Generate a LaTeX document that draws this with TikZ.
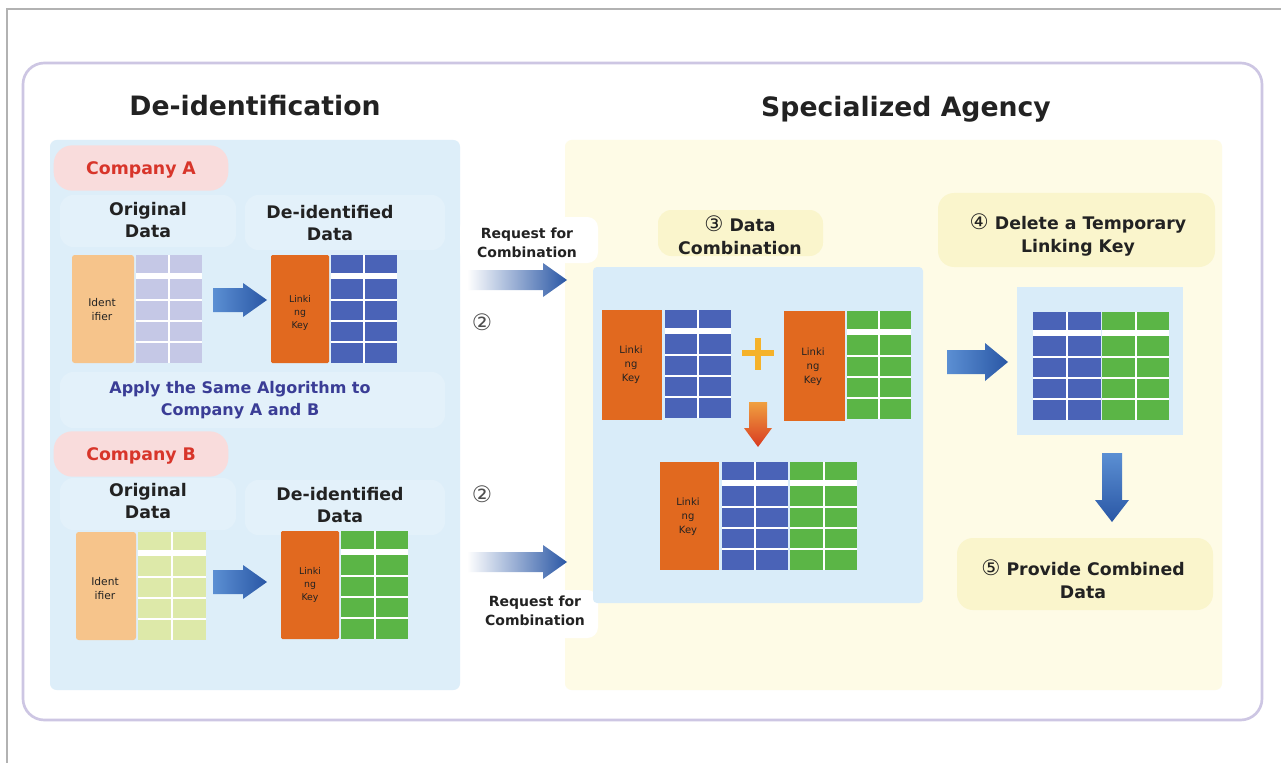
\documentclass[tikz,border=0pt]{standalone}
\usepackage{fontspec}
\setmainfont{DejaVu Sans}
\definecolor{framec}{HTML}{CDC6E3}
\definecolor{panelblue}{HTML}{DDEEF9}
\definecolor{bandblue}{HTML}{E3F1FA}
\definecolor{combblue}{HTML}{D9ECF9}
\definecolor{panelyel}{HTML}{FEFBE6}
\definecolor{bandyel}{HTML}{FAF5CC}
\definecolor{pinkc}{HTML}{F9DCDC}
\definecolor{redc}{HTML}{D8352A}
\definecolor{navyc}{HTML}{3A3D96}
\definecolor{peach}{HTML}{F6C48B}
\definecolor{orangec}{HTML}{E1691F}
\definecolor{lavc}{HTML}{C5C8E6}
\definecolor{blueg}{HTML}{4A63B7}
\definecolor{lgreen}{HTML}{DDE9A9}
\definecolor{greeng}{HTML}{5BB546}
\definecolor{arrL}{HTML}{5B8FD3}
\definecolor{arrR}{HTML}{2A57A5}
\definecolor{txtc}{HTML}{222222}
\definecolor{plusc}{HTML}{F5B22A}
\definecolor{redA}{HTML}{F0A040}
\definecolor{redB}{HTML}{D83A20}

\newcommand\dgrid[4]{%
  \fill[#4] (#1,#2) rectangle ({#1+#3},{#2+108});
  \fill[white] (#1,{#2+18}) rectangle ({#1+#3},{#2+24});
  \foreach \k in {1,2,3}{\draw[white,line width=1.5pt] (#1,{#2+24+21*\k}) -- ({#1+#3},{#2+24+21*\k});}
  \draw[white,line width=1.5pt] ({#1+#3/2},#2) -- ({#1+#3/2},{#2+108});
}
\newcommand\blockR[7]{%
  \shade[#7] (#1,{#3-#4}) -- ({#2-#6},{#3-#4}) -- ({#2-#6},{#3-#5}) -- (#2,#3) -- ({#2-#6},{#3+#5}) -- ({#2-#6},{#3+#4}) -- (#1,{#3+#4}) -- cycle;
}
\newcommand\blockD[7]{%
  \shade[#7] ({#3-#4},#1) -- ({#3-#4},{#2-#6}) -- ({#3-#5},{#2-#6}) -- (#3,#2) -- ({#3+#5},{#2-#6}) -- ({#3+#4},{#2-#6}) -- ({#3+#4},#1) -- cycle;
}
\newcommand\cnum[1]{{\fontsize{16}{16}\selectfont\mdseries #1}}

\tikzset{
  title/.style={font=\fontsize{20}{24}\selectfont\bfseries, text=txtc, inner sep=0pt},
  lbl/.style={font=\fontsize{13}{17}\selectfont\bfseries, text=txtc, align=center, inner sep=0pt},
  req/.style={font=\fontsize{10.5}{14}\selectfont\bfseries, text=txtc, align=center, inner sep=0pt},
  keytxt/.style={font=\fontsize{7}{10}\selectfont, text=txtc, align=center, inner sep=0pt},
  pill/.style={fill=pinkc, rounded corners=14pt, minimum width=131pt, minimum height=34pt, text=redc, font=\fontsize{13}{16}\selectfont\bfseries},
  num/.style={font=\fontsize{17}{18}\selectfont, text=txtc!80, inner sep=0pt},
  arrblue/.style={left color=arrL, right color=arrR},
  arrreq/.style={left color=white, right color=arrR},
  arrdown/.style={top color=arrL, bottom color=arrR},
  arrred/.style={top color=redA, bottom color=redB},
}

\begin{document}
\begin{tikzpicture}[x=0.75pt,y=-0.75pt]
\useasboundingbox (0,0) rectangle (1281,763);
\fill[white] (0,0) rectangle (1281,763);
\draw[gray!60, line width=1.2pt] (7,763) -- (7,9) -- (1281,9);
\draw[framec, line width=2pt, fill=white, rounded corners=16pt] (23,63) rectangle (1262,720);

% titles
\node[title] (t1) at (255,106) {De-identification};
\node[title] (t2) at (906,109) {Specialized Agency};

% panels
\fill[panelblue, rounded corners=5pt] (50,140) rectangle (460,690);
\fill[panelyel, rounded corners=5pt] (565,140) rectangle (1222,690);

% light bands (left)
\fill[bandblue, rounded corners=10pt] (60,195) rectangle (236,247);
\fill[bandblue, rounded corners=10pt] (245,195) rectangle (445,250);
\fill[bandblue, rounded corners=10pt] (60,372) rectangle (445,428);
\fill[bandblue, rounded corners=10pt] (60,478) rectangle (236,530);
\fill[bandblue, rounded corners=10pt] (245,480) rectangle (445,535);

% request patches
\fill[white, rounded corners=8pt] (460,217) rectangle (598,263);
\fill[white, rounded corners=8pt] (468,590) rectangle (598,638);

% company pills
\node[pill] (ca) at (141,168) {};
\node[text=redc, font=\fontsize{13}{16}\selectfont\bfseries] (cat) at (141,170) {Company\,\,A};
\node[pill] (cb) at (141,454) {};
\node[text=redc, font=\fontsize{13}{16}\selectfont\bfseries] (cbt) at (141,456) {Company\,\,B};

% labels left
\node[lbl] (oa) at (148,220) {Original\\Data};
\node[lbl] (da) at (330,223) {De-identified\\Data};
\node[lbl, text=navyc, font=\fontsize{12}{16.5}\selectfont\bfseries] (ap) at (240,400) {Apply the Same Algorithm to\\Company A and B};
\node[lbl] (ob) at (148,501) {Original\\Data};
\node[lbl] (db) at (340,505) {De-identified\\Data};

% company A tables
\fill[peach, rounded corners=2pt] (72,255) rectangle (134,363);
\dgrid{136}{255}{66}{lavc}
\node[keytxt, font=\fontsize{8}{10.5}\selectfont] (ia) at (102,310) {Ident\\ifier};
\blockR{213}{267}{300}{12}{17}{24}{arrblue}
\fill[orangec, rounded corners=1pt] (271,255) rectangle (329,363);
\dgrid{331}{255}{66}{blueg}
\node[keytxt] (ka) at (300,313) {Linki\\ng\\Key};

% company B tables
\fill[peach, rounded corners=2pt] (76,532) rectangle (136,640);
\dgrid{138}{532}{68}{lgreen}
\node[keytxt, font=\fontsize{8}{10.5}\selectfont] (ib) at (105,589) {Ident\\ifier};
\blockR{213}{267}{582}{12}{17}{24}{arrblue}
\fill[orangec, rounded corners=1pt] (281,531) rectangle (339,639);
\dgrid{341}{531}{67}{greeng}
\node[keytxt] (kb) at (310,585) {Linki\\ng\\Key};

% request arrows
\node[req] (rq1) at (527,243) {Request for\\Combination};
\blockR{467}{567}{280}{10}{17}{24}{arrreq}
\node[num] (n2a) at (482,322) {②};
\node[num] (n2b) at (482,494) {②};
\blockR{467}{567}{562}{10}{17}{24}{arrreq}
\node[req] (rq2) at (535,611) {Request for\\Combination};

% step 3
\fill[bandyel, rounded corners=10pt] (658,210) rectangle (823,256);
\node[lbl] (s3) at (740,235) {\cnum{③} Data\\Combination};
\fill[combblue, rounded corners=3pt] (593,267) rectangle (923,603);
\fill[orangec] (602,310) rectangle (662,420);
\dgrid{665}{310}{66}{blueg}
\node[keytxt, font=\fontsize{7.5}{10.5}\selectfont] (k1) at (631,365) {Linki\\ng\\Key};
\draw[plusc, line width=4pt] (742,353) -- (774,353) (758,338) -- (758,370);
\fill[orangec] (784,311) rectangle (845,421);
\dgrid{847}{311}{64}{greeng}
\node[keytxt, font=\fontsize{7.5}{10.5}\selectfont] (k2) at (813,367) {Linki\\ng\\Key};
\blockD{402}{447}{758}{9}{14}{19}{arrred}
\fill[orangec] (660,462) rectangle (719,570);
\dgrid{722}{462}{66}{blueg}
\dgrid{790}{462}{67}{greeng}
\node[keytxt, font=\fontsize{7.5}{10.5}\selectfont] (k3) at (688,517) {Linki\\ng\\Key};

% step 4
\blockR{947}{1008}{362}{12}{19}{23}{arrblue}
\fill[bandyel, rounded corners=12pt] (938,193) rectangle (1215,267);
\node[lbl] (s4) at (1078,235) {\cnum{④} Delete a Temporary\\Linking Key};
\fill[combblue] (1017,287) rectangle (1183,435);
\dgrid{1033}{312}{68}{blueg}
\dgrid{1102}{312}{67}{greeng}

% step 5
\blockD{453}{522}{1112}{10}{17}{22}{arrdown}
\fill[bandyel, rounded corners=12pt] (957,538) rectangle (1213,610);
\node[lbl] (s5) at (1083,579) {\cnum{⑤} Provide Combined\\Data};
\end{tikzpicture}
\end{document}
